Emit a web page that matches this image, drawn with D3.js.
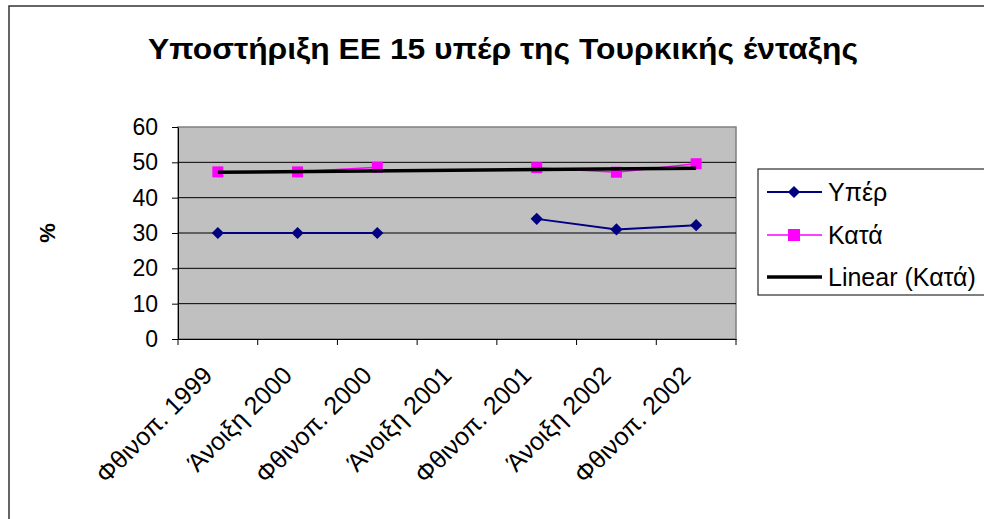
<!DOCTYPE html>
<html>
<head>
<meta charset="utf-8">
<script src="https://cdn.jsdelivr.net/npm/d3@7"></script>
<style>
  html, body { margin: 0; padding: 0; background: #fff; }
  svg { display: block; }
</style>
</head>
<body>
<svg id="chart" width="984" height="519"></svg>
<script>
const titleText = "Υποστήριξη ΕΕ 15 υπέρ της Τουρκικής ένταξης";
const yAxisLabel = "%";
const categories = ["Φθινοπ. 1999", "Άνοιξη 2000", "Φθινοπ. 2000", "Άνοιξη 2001", "Φθινοπ. 2001", "Άνοιξη 2002", "Φθινοπ. 2002"];
const seriesNames = ["Υπέρ", "Κατά", "Linear (Κατά)"];
const valuesFor = [30, 30, 30, null, 34, 31, 32.2];
const valuesAgainst = [47.3, 47.3, 48.6, null, 48.5, 47.2, 49.6];
const trendEnds = [47.2, 48.3];   // Linear (Κατά), at first and last category
const yTicks = [0, 10, 20, 30, 40, 50, 60];

const svg = d3.select("#chart");
const font = "'Liberation Sans', Arial, sans-serif";

// outer frame
svg.append("rect").attr("x", 9).attr("y", 6).attr("width", 1000).attr("height", 540)
  .attr("fill", "#fff").attr("stroke", "#333").attr("stroke-width", 1.5);

// title
svg.append("text").attr("x", 503).attr("y", 59).attr("text-anchor", "middle")
  .attr("font-family", font).attr("font-weight", "bold").attr("font-size", 30)
  .attr("textLength", 710).attr("lengthAdjust", "spacingAndGlyphs")
  .text(titleText);

const plot = { left: 178, right: 736, top: 127, bottom: 339 };
const x = d3.scaleBand().domain(categories).range([plot.left, plot.right]);
const y = d3.scaleLinear().domain([0, 60]).range([plot.bottom, plot.top]);
const cx = c => x(c) + x.bandwidth() / 2;

// plot background
svg.append("rect").attr("x", plot.left).attr("y", plot.top)
  .attr("width", plot.right - plot.left).attr("height", plot.bottom - plot.top)
  .attr("fill", "#C0C0C0").attr("stroke", "#808080").attr("stroke-width", 1.5);

// gridlines
svg.append("g").selectAll("line").data(yTicks.filter(t => t > 0 && t < 60)).join("line")
  .attr("x1", plot.left).attr("x2", plot.right)
  .attr("y1", d => y(d)).attr("y2", d => y(d))
  .attr("stroke", "#000").attr("stroke-width", 1);

// y axis
const yAxis = svg.append("g").attr("transform", `translate(${plot.left},0)`)
  .call(d3.axisLeft(y).tickValues(yTicks).tickSize(6).tickPadding(14).tickSizeOuter(0));
yAxis.select(".domain").attr("stroke", "#000").attr("stroke-width", 1);
yAxis.selectAll(".tick line").attr("stroke", "#000");
yAxis.selectAll("text").attr("font-family", font).attr("font-size", 23).attr("fill", "#000");

// x axis
const xAxis = svg.append("g").attr("transform", `translate(0,${plot.bottom})`)
  .call(d3.axisBottom(x).tickSize(0).tickSizeOuter(0).tickFormat(""));
xAxis.select(".domain").attr("stroke", "#000").attr("stroke-width", 1);
xAxis.selectAll(".tick").remove();
const boundaries = categories.map(c => x(c)).concat([x(categories[categories.length - 1]) + x.bandwidth()]);
xAxis.selectAll("line.bt").data(boundaries).join("line").attr("class", "bt")
  .attr("x1", d => d).attr("x2", d => d).attr("y1", 0).attr("y2", 6)
  .attr("stroke", "#000").attr("stroke-width", 1);
svg.append("g").selectAll("text").data(categories).join("text")
  .attr("transform", d => `translate(${cx(d) - 4},${plot.bottom + 38}) rotate(-45)`)
  .attr("text-anchor", "end")
  .attr("font-family", font).attr("font-size", 25).attr("fill", "#000")
  .text(d => d);

// y axis title
svg.append("text").attr("transform", "translate(55,233) rotate(-90)")
  .attr("text-anchor", "middle").attr("font-family", font)
  .attr("font-weight", "bold").attr("font-size", 22).text(yAxisLabel);

// series lines
const line = d3.line().defined(d => d.v != null).x(d => cx(d.c)).y(d => y(d.v));
const dataFor = categories.map((c, i) => ({ c, v: valuesFor[i] }));
const dataAgainst = categories.map((c, i) => ({ c, v: valuesAgainst[i] }));

svg.append("path").datum(dataAgainst).attr("d", line)
  .attr("fill", "none").attr("stroke", "#FF00FF").attr("stroke-width", 1.5);
svg.append("path").datum(dataFor).attr("d", line)
  .attr("fill", "none").attr("stroke", "#000080").attr("stroke-width", 2);

// markers
svg.append("g").selectAll("rect").data(dataAgainst.filter(d => d.v != null)).join("rect")
  .attr("x", d => cx(d.c) - 5.5).attr("y", d => y(d.v) - 5.5)
  .attr("width", 11).attr("height", 11).attr("fill", "#FF00FF");
const diamond = d3.symbol().type(d3.symbolDiamond2).size(95);
svg.append("g").selectAll("path").data(dataFor.filter(d => d.v != null)).join("path")
  .attr("transform", d => `translate(${cx(d.c)},${y(d.v)})`)
  .attr("d", diamond).attr("fill", "#000080");

// trendline
const trendData = [{ c: categories[0], v: trendEnds[0] }, { c: categories[categories.length - 1], v: trendEnds[1] }];
svg.append("path").datum(trendData).attr("d", line)
  .attr("fill", "none").attr("stroke", "#000").attr("stroke-width", 3.5);

// legend
const lg = svg.append("g");
lg.append("rect").attr("x", 758).attr("y", 169).attr("width", 240).attr("height", 126)
  .attr("fill", "#fff").attr("stroke", "#000").attr("stroke-width", 1);
const rows = [
  { name: seriesNames[0], color: "#000080", w: 2, marker: "diamond", y: 192 },
  { name: seriesNames[1], color: "#FF00FF", w: 1.5, marker: "square", y: 235 },
  { name: seriesNames[2], color: "#000", w: 3.5, marker: null, y: 277 }
];
rows.forEach(r => {
  lg.append("line").attr("x1", 767).attr("x2", 822).attr("y1", r.y).attr("y2", r.y)
    .attr("stroke", r.color).attr("stroke-width", r.w);
  if (r.marker === "diamond") {
    lg.append("path").attr("transform", `translate(794,${r.y})`).attr("d", diamond).attr("fill", r.color);
  } else if (r.marker === "square") {
    lg.append("rect").attr("x", 794 - 6).attr("y", r.y - 6).attr("width", 12).attr("height", 12).attr("fill", r.color);
  }
  lg.append("text").attr("x", 828).attr("y", r.y).attr("dy", "0.35em")
    .attr("font-family", font).attr("font-size", 25).attr("fill", "#000").text(r.name);
});
</script>
</body>
</html>
